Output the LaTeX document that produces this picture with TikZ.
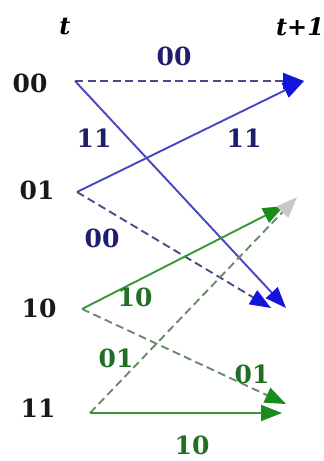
\documentclass[tikz,border=0pt]{standalone}
\usepackage{fontspec}
\setmainfont{DejaVu Serif}
\usetikzlibrary{arrows.meta,positioning}
\definecolor{bl}{HTML}{4646C4}
\definecolor{bltip}{HTML}{1414DC}
\definecolor{bld}{HTML}{4A4A8C}
\definecolor{blt}{HTML}{1E1E6E}
\definecolor{gr}{HTML}{3A963A}
\definecolor{grtip}{HTML}{1A8C1A}
\definecolor{grd}{HTML}{6A8A6A}
\definecolor{grt}{HTML}{226E22}
\definecolor{gry}{HTML}{C4CCC4}
\tikzset{
  st/.style={font=\fontsize{25}{27}\selectfont\bfseries,text=black!90,inner sep=0pt},
  tm/.style={font=\fontsize{24}{26}\selectfont\bfseries\itshape,inner sep=0pt},
  bt/.style={font=\fontsize{25}{27}\selectfont\bfseries,text=blt,inner sep=0pt},
  gt/.style={font=\fontsize{25}{27}\selectfont\bfseries,text=grt,inner sep=0pt},
  dsh/.style={dash pattern=on 8pt off 4.5pt},
  barr/.style={draw=bl,line width=1.9pt,-{Triangle[length=21pt,width=16pt,color=bltip]}},
  bdarr/.style={barr,draw=bld,dsh},
  garr/.style={draw=gr,line width=1.9pt,-{Triangle[length=21pt,width=16pt,color=grtip]}},
  gdarr/.style={garr,draw=grd,dsh},
}
\begin{document}
\begin{tikzpicture}[x=1pt,y=-1pt]
\useasboundingbox (0,0) rectangle (324,461);
% time labels
\node[tm] (tnow) at (65,27) {t};
\node[tm] (tnext) at (300,27) {t+1};
% states at t
\node[st] (s00) at (30,83) {00};
\node[st] (s01) at (37,190) {01};
\node[st] (s10) at (39,308) {10};
\node[st] (s11) at (38,408) {11};
\coordinate (a00) at (75,81);
\coordinate (a01) at (77,192);
\coordinate (a10) at (82,309);
\coordinate (a11) at (90,413);
% ends at t+1
\coordinate (b00) at (304,81);
\coordinate (b01s) at (284,206);
\coordinate (b01d) at (297,197);
\coordinate (b10s) at (286,308);
\coordinate (b10d) at (271,308);
\coordinate (b11s) at (282,413);
\coordinate (b11d) at (286,404);
% branches
\draw[bdarr] (a00)--(b00);
\draw[barr] (a00)--(b10s);
\draw[barr] (a01)--(b00);
\draw[bdarr] (a01)--(b10d);
\draw[garr] (a10)--(b01s);
\draw[gdarr] (a10)--(b11d);
\draw[gdarr,-{Triangle[length=21pt,width=16pt,color=gry]}] (a11)--(b01d);
\draw[garr] (a11)--(b11s);
% outputs
\node[bt] (o1) at (174,56) {00};
\node[bt] (o2) at (94,138) {11};
\node[bt] (o3) at (244,138) {11};
\node[bt] (o4) at (102,238) {00};
\node[gt] (o5) at (135,297) {10};
\node[gt] (o6) at (116,358) {01};
\node[gt] (o7) at (252,374) {01};
\node[gt] (o8) at (192,445) {10};
\end{tikzpicture}
\end{document}
